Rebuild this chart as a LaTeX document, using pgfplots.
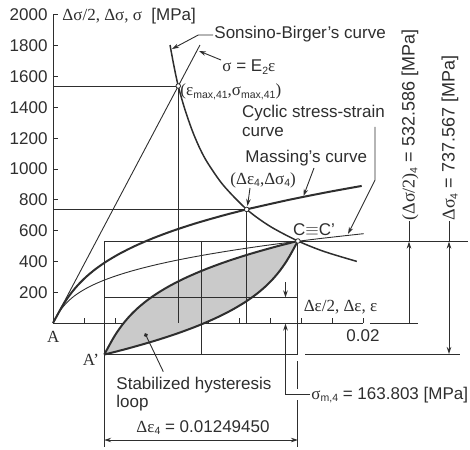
\documentclass[border=0pt]{standalone}
\usepackage{fontspec}
\setmainfont{Liberation Sans}
\newfontfamily\grk{Liberation Serif}
\usepackage{pgfplots}
\pgfplotsset{compat=1.18}
\usetikzlibrary{arrows.meta}
\definecolor{lc}{HTML}{2E2E2E}
\definecolor{fillg}{HTML}{CACACA}
\newcommand{\fs}{\fontsize{17}{19}\selectfont}
\newcommand{\fr}{\fontsize{18}{20}\selectfont}
\newcommand{\g}[1]{{\grk #1}}
\newcommand{\sbs}[1]{\raisebox{-0.3ex}{\fontsize{10.5}{10.5}\selectfont #1}}
\begin{document}
\begin{tikzpicture}[>={Stealth[length=7pt,width=4.5pt]}]
\useasboundingbox (0,0) rectangle (470pt,-449pt);
\begin{axis}[
  at={(53pt,-323pt)}, anchor=south west,
  scale only axis, width=310pt, height=308pt,
  xmin=0, xmax=0.02, ymin=0, ymax=2000,
  axis lines*=left, clip=false,
  axis line style={line width=1pt, color=lc},
  xtick={0.002,0.004,0.006,0.008,0.01,0.012,0.014,0.016,0.018,0.02},
  xticklabels={,,,,,,,,,0.02},
  scaled x ticks=false,
  ytick={200,400,600,800,1000,1200,1400,1600,1800,2000},
  tick align=inside, major tick length=5pt,
  tick style={line width=1pt, color=lc},
  /pgf/number format/assume math mode=true,
  /pgf/number format/1000 sep={},
  yticklabel style={font=\fs, text=lc, xshift=-2pt},
  xticklabel style={font=\fs, text=lc, yshift=-3pt},
]
% stabilized hysteresis loop (fill)
\addplot[draw=none, fill=fillg] coordinates {
(0.0033055,-204.98) (0.0038515,-104.98) (0.0041635,-54.98) (0.0045235,-4.98)
(0.0049465,45.02) (0.0054485,95.02) (0.0060475,145.02) (0.0067605,195.02)
(0.0076025,245.02) (0.0085915,295.02) (0.0097435,345.02) (0.0110745,395.02)
(0.0126015,445.02) (0.0143425,495.02) (0.0158,532.586)
(0.015254,432.586) (0.014942,382.586) (0.014582,332.586) (0.014159,282.586)
(0.013657,232.586) (0.013058,182.586) (0.012345,132.586) (0.011503,82.586)
(0.010514,32.586) (0.009362,-17.414) (0.008031,-67.414) (0.006504,-117.414)
(0.004763,-167.414) (0.0033055,-204.98)} -- cycle;
% reference lines
\draw[line width=0.9pt, lc] (axis cs:0,1539) -- (axis cs:0.00808,1539) -- (axis cs:0.00808,0);
\draw[line width=0.9pt, lc] (axis cs:0,737.567) -- (axis cs:0.0124945,737.567) -- (axis cs:0.0124945,0);
\draw[line width=0.9pt, lc] (axis cs:0.0033055,-204.98) -- (axis cs:0.0033055,532.586) -- (axis cs:0.026774,532.586);
\draw[line width=0.9pt, lc] (axis cs:0.0033055,163.803) -- (axis cs:0.0158,163.803);
\draw[line width=0.9pt, lc] (axis cs:0.00955,532.586) -- (axis cs:0.00955,-204.98);
\draw[line width=0.9pt, lc] (axis cs:0.0158,532.586) -- (axis cs:0.0158,-204.98);
\draw[line width=0.9pt, lc] (axis cs:0.0033055,-204.98) -- (axis cs:0.0158,-204.98);
% sigma = E2 eps
\addplot[lc, line width=0.9pt] coordinates {(0,0) (0.00948,1805)};
% cyclic stress-strain curve
\addplot[lc, line width=0.9pt, smooth] coordinates {
(0,0) (0.000273,50) (0.000429,75) (0.000609,100) (0.000821,125) (0.001072,150)
(0.001371,175) (0.001728,200) (0.002149,225) (0.002643,250) (0.003219,275)
(0.003885,300) (0.004648,325) (0.005519,350) (0.006505,375) (0.007617,400)
(0.008861,425) (0.010247,450) (0.011780,475) (0.013472,500) (0.015334,525)
(0.017363,550) (0.019583,575) (0.020047,580)};
% Massing's curve
\addplot[lc, line width=2pt, smooth] coordinates {
(0,0) (0.000546,100) (0.000858,150) (0.001218,200) (0.001641,250) (0.002143,300)
(0.002742,350) (0.003455,400) (0.004297,450) (0.005286,500) (0.006438,550)
(0.007769,600) (0.009296,650) (0.011037,700) (0.012494,737.567) (0.013010,750)
(0.015234,800) (0.017721,850) (0.019913,890)};
% Sonsino-Birger's curve
\addplot[lc, line width=1.5pt, smooth] coordinates {
(0.00755,1805) (0.0078,1670) (0.00808,1539) (0.0085,1390) (0.0090,1245)
(0.0095,1128) (0.0100,1036) (0.0110,893) (0.0125,737.6) (0.0140,628)
(0.0158,532.6) (0.0175,464) (0.0196,400)};
% loop branches
\addplot[lc, line width=2pt, smooth] coordinates {
(0.0033055,-204.98) (0.0038515,-104.98) (0.0041635,-54.98) (0.0045235,-4.98)
(0.0049465,45.02) (0.0054485,95.02) (0.0060475,145.02) (0.0067605,195.02)
(0.0076025,245.02) (0.0085915,295.02) (0.0097435,345.02) (0.0110745,395.02)
(0.0126015,445.02) (0.0143425,495.02) (0.0158,532.586)};
\addplot[lc, line width=2pt, smooth] coordinates {
(0.0158,532.586)
(0.015254,432.586) (0.014942,382.586) (0.014582,332.586) (0.014159,282.586)
(0.013657,232.586) (0.013058,182.586) (0.012345,132.586) (0.011503,82.586)
(0.010514,32.586) (0.009362,-17.414) (0.008031,-67.414) (0.006504,-117.414)
(0.004763,-167.414) (0.0033055,-204.98)};
% marked points
\addplot[only marks, mark=*, mark size=2.3pt, mark options={fill=white, draw=lc, line width=0.8pt}]
 coordinates {(0.00808,1539) (0.0124945,737.567) (0.0158,532.586)};
\end{axis}
\begin{scope}[x=1pt, y=-1pt, line width=0.9pt, color=lc, every node/.style={inner sep=0pt, font=\fs, text=lc}]
% extension and dimension lines
\draw (370,323) -- (418,323);
\draw (305,354.6) -- (460,354.6);
\draw (297.9,361) -- (297.9,389);
\draw (297.9,400) -- (297.9,447);
\draw (104.2,354.6) -- (104.2,447);
\draw[<->] (104.2,440) -- (297.9,440);
\draw[->] (409,323) -- (409,241.5);
\draw (409,241) -- (409,221);
\draw[<->] (449,241.5) -- (449,354);
\draw (449,241) -- (449,221);
\draw[->] (285.5,282) -- (285.5,297.5);
\draw[->] (310,394.5) -- (285.5,394.5) -- (285.5,323.5);
% leaders
\draw[->] (213,35) -- (198.3,35) -- (172,49);
\draw[->] (221,60) -- (199,51);
\draw[->] (375,127) -- (375,180) -- (348,234);
\draw[->] (314,168) -- (303.5,196);
\draw[->] (250,188) -- (247.5,206);
\draw[-{Circle[length=4pt]}] (163.3,371.7) -- (145,333.3);
% texts
\node[anchor=west] at (62,16) {\g{Δσ/2, Δσ, σ}\ \ [MPa]};
\node[anchor=west] at (214,34) {Sonsino-Birger’s curve};
\node[anchor=west] at (222,67) {\g{σ} = E\sbs{2}\g{ε}};
\node[anchor=west] at (180,91.7) {\g{(ε}\sbs{max,41}\g{,σ}\sbs{max,41}\g{)}};
\node[anchor=west] at (241.7,113) {Cyclic stress-strain};
\node[anchor=west] at (241.7,131.7) {curve};
\node[anchor=west] at (245,158) {Massing’s curve};
\node[anchor=west] at (230,180) {\g{(Δε}\sbs{4}\g{,Δσ}\sbs{4}\g{)}};
\node[anchor=west] at (292.7,230) {C$\equiv$C’};
\node[anchor=west] at (303.3,306.7) {\g{Δε/2, Δε, ε}};
\node at (53.3,336.7) {\g{A}};
\node at (91,360) {\g{A’}};
\node[anchor=west] at (116,385) {Stabilized hysteresis};
\node[anchor=west] at (116,403.3) {loop};
\node[anchor=west] at (311,395) {\g{σ}\sbs{m,4} = 163.803 [MPa]};
\node at (203,427.7) {\g{Δε}\sbs{4} = 0.01249450};
\node[rotate=90, anchor=west, font=\fr] at (410,221) {\g{(Δσ/2)}\sbs{4} = 532.586 [MPa]};
\node[rotate=90, anchor=west, font=\fr] at (450,221) {\g{Δσ}\sbs{4} = 737.567 [MPa]};
\end{scope}
\end{tikzpicture}
\end{document}
